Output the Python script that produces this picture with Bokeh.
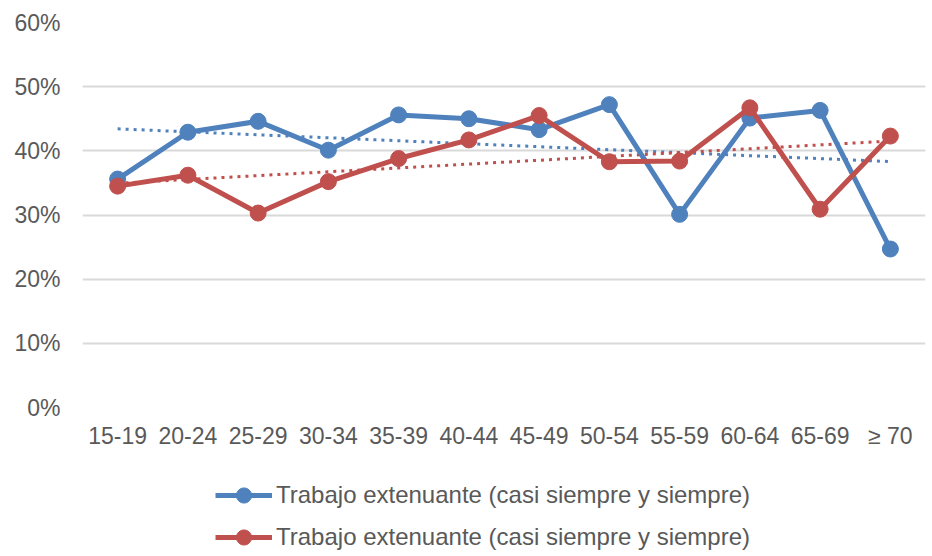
import numpy as np
from bokeh.plotting import figure
from bokeh.layouts import column
from bokeh.models import (FactorRange, Range1d, FixedTicker, PrintfTickFormatter,
                          Legend, LegendItem)
from bokeh.embed import file_html
from bokeh.resources import INLINE

categories = ["15-19", "20-24", "25-29", "30-34", "35-39", "40-44",
              "45-49", "50-54", "55-59", "60-64", "65-69", "≥ 70"]
serie_azul = [35.6, 42.9, 44.6, 40.1, 45.6, 45.0, 43.3, 47.2, 30.1, 45.1, 46.3, 24.7]
serie_roja = [34.5, 36.2, 30.3, 35.2, 38.8, 41.7, 45.5, 38.3, 38.4, 46.7, 30.9, 42.3]
y_ticks = [0, 10, 20, 30, 40, 50, 60]
legend_labels = ["Trabajo extenuante (casi siempre y siempre)",
                 "Trabajo extenuante (casi siempre y siempre)"]

BLUE = "#4F81BD"
RED = "#C0504D"
TXT = "#595959"
GRID = "#D9D9D9"
FONT = "Liberation Sans"
FS = "23px"

p = figure(width=932, height=466, x_range=FactorRange(*categories),
           y_range=Range1d(0, 60), output_backend="svg", toolbar_location=None,
           min_border_left=82, min_border_right=7, min_border_top=22,
           min_border_bottom=59)
p.outline_line_color = None
p.background_fill_color = "white"

# axes
p.yaxis.ticker = FixedTicker(ticks=y_ticks)
p.yaxis.formatter = PrintfTickFormatter(format="%d%%")
for ax in (p.xaxis[0], p.yaxis[0]):
    ax.axis_line_color = None
    ax.major_tick_line_color = None
    ax.minor_tick_line_color = None
    ax.major_tick_out = 0
    ax.major_tick_in = 0
    ax.major_label_text_color = TXT
    ax.major_label_text_font = FONT
    ax.major_label_text_font_size = FS
p.yaxis.major_label_standoff = 22
p.xaxis.major_label_standoff = 15

p.xgrid.grid_line_color = None
p.ygrid.grid_line_color = GRID
p.ygrid.grid_line_width = 2
p.ygrid.ticker = FixedTicker(ticks=y_ticks)

# linear trend lines (fitted from the series)
xi = np.arange(len(categories))
for vals, col in ((serie_azul, BLUE), (serie_roja, RED)):
    m, b = np.polyfit(xi, np.array(vals), 1)
    p.line(x=categories, y=list(m * xi + b), line_color=col, line_width=3,
           line_dash="3 5")

for vals, col in ((serie_azul, BLUE), (serie_roja, RED)):
    p.line(x=categories, y=vals, line_color=col, line_width=5)
    p.scatter(x=categories, y=vals, size=16, fill_color=col, line_color=col)

# legend strip below the chart (its series lie outside its visible range)
p2 = figure(width=932, height=90, x_range=FactorRange(*categories),
            y_range=Range1d(0, 1), output_backend="svg", toolbar_location=None,
            min_border_left=0, min_border_right=0, min_border_top=0,
            min_border_bottom=0)
p2.axis.visible = False
p2.grid.visible = False
p2.outline_line_color = None

items = []
for vals, col, lab in ((serie_azul, BLUE, legend_labels[0]),
                       (serie_roja, RED, legend_labels[1])):
    l = p2.line(x=categories, y=vals, line_color=col, line_width=5)
    s = p2.scatter(x=categories, y=vals, fill_color=col, line_color=col)
    items.append(LegendItem(label=lab, renderers=[l, s]))

legend = Legend(items=items, location=(133, 0), orientation="vertical",
                label_text_font=FONT, label_text_font_size="24px",
                label_text_color=TXT, glyph_width=57, glyph_height=38,
                label_height=38, spacing=4, label_standoff=4,
                padding=0, margin=0, border_line_color=None,
                background_fill_alpha=0)
p2.add_layout(legend, "center")

open("out.html", "w").write(file_html(column(p, p2), INLINE))
